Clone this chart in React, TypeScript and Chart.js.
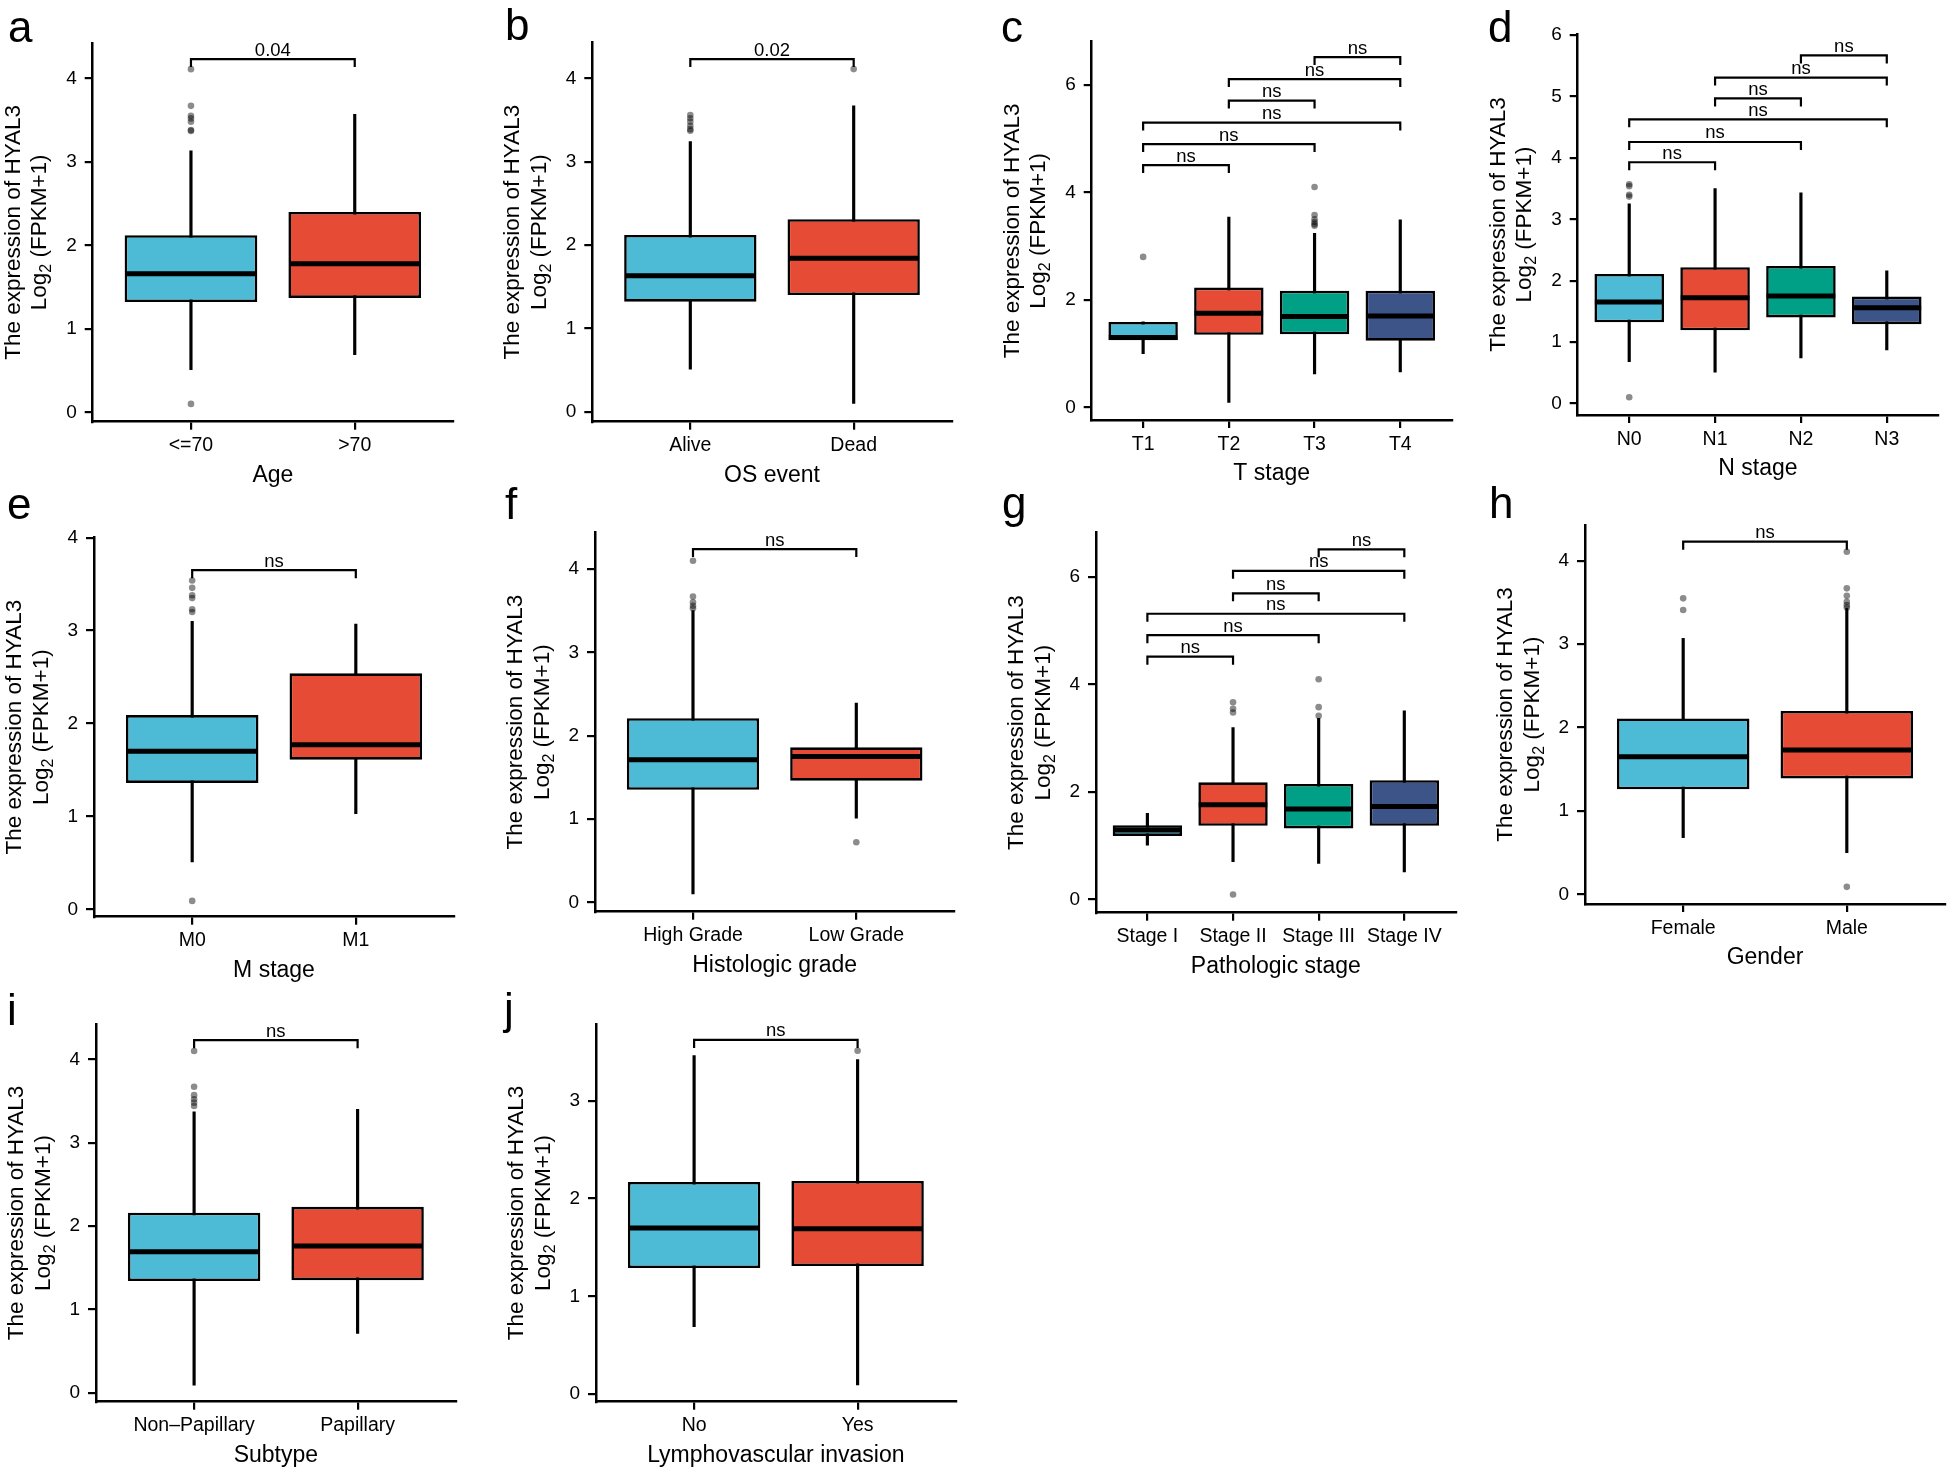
import React, { useEffect, useRef } from "react";
import { Chart, registerables } from "chart.js";
Chart.register(...registerables);

const FONT = '"Liberation Sans", Arial, Helvetica, sans-serif';
const COLORS = ["#4DBBD5", "#E64B35", "#00A087", "#3C5488"];

// ---------- a: Age ----------
const aCats = ["<=70", ">70"];
const aQ1 = [1.32, 1.37];
const aMed = [1.66, 1.78];
const aQ3 = [2.12, 2.4];
const aLo = [0.51, 0.69];
const aHi = [3.13, 3.57];
const aOut = [[4.11, 3.67, 3.55, 3.52, 3.48, 3.38, 3.37, 0.1], []];
const aTicks = [0, 1, 2, 3, 4];
const aBr: [number, number, number, string][] = [[1, 2, 4.23, "0.04"]];

// ---------- b: OS event ----------
const bCats = ["Alive", "Dead"];
const bQ1 = [1.32, 1.4];
const bMed = [1.63, 1.84];
const bQ3 = [2.12, 2.31];
const bLo = [0.51, 0.1];
const bHi = [3.24, 3.67];
const bOut = [[3.56, 3.52, 3.48, 3.43, 3.39, 3.37], [4.11]];
const bTicks = [0, 1, 2, 3, 4];
const bBr: [number, number, number, string][] = [[1, 2, 4.23, "0.02"]];

// ---------- c: T stage ----------
const cCats = ["T1", "T2", "T3", "T4"];
const cQ1 = [1.25, 1.35, 1.36, 1.24];
const cMed = [1.3, 1.75, 1.69, 1.7];
const cQ3 = [1.59, 2.23, 2.17, 2.17];
const cLo = [1.0, 0.09, 0.62, 0.66];
const cHi = [1.59, 3.54, 3.24, 3.49];
const cOut = [[2.8], [], [4.1, 3.58, 3.5, 3.45, 3.41, 3.38], []];
const cTicks = [0, 2, 4, 6];
const cBr: [number, number, number, string][] = [
  [1, 2, 4.51, "ns"], [1, 3, 4.9, "ns"], [1, 4, 5.3, "ns"],
  [2, 3, 5.71, "ns"], [2, 4, 6.11, "ns"], [3, 4, 6.52, "ns"],
];

// ---------- d: N stage ----------
const dCats = ["N0", "N1", "N2", "N3"];
const dQ1 = [1.32, 1.19, 1.4, 1.29];
const dMed = [1.65, 1.72, 1.75, 1.56];
const dQ3 = [2.11, 2.22, 2.24, 1.74];
const dLo = [0.68, 0.51, 0.74, 0.87];
const dHi = [3.25, 3.5, 3.43, 2.16];
const dOut = [[3.57, 3.54, 3.4, 3.37, 0.1], [], [], []];
const dTicks = [0, 1, 2, 3, 4, 5, 6];
const dBr: [number, number, number, string][] = [
  [1, 2, 3.93, "ns"], [1, 3, 4.26, "ns"], [1, 4, 4.63, "ns"],
  [2, 3, 4.97, "ns"], [2, 4, 5.31, "ns"], [3, 4, 5.67, "ns"],
];

// ---------- e: M stage ----------
const eCats = ["M0", "M1"];
const eQ1 = [1.36, 1.61];
const eMed = [1.7, 1.77];
const eQ3 = [2.09, 2.54];
const eLo = [0.51, 1.03];
const eHi = [3.1, 3.07];
const eOut = [[3.54, 3.46, 3.38, 3.35, 3.23, 3.2, 0.09], []];
const eTicks = [0, 1, 2, 3, 4];
const eBr: [number, number, number, string][] = [[1, 2, 3.65, "ns"]];

// ---------- f: Histologic grade ----------
const fCats = ["High Grade", "Low Grade"];
const fQ1 = [1.35, 1.46];
const fMed = [1.71, 1.75];
const fQ3 = [2.21, 1.86];
const fLo = [0.1, 1.01];
const fHi = [3.5, 2.39];
const fOut = [[4.1, 3.67, 3.6, 3.56, 3.53], [0.72]];
const fTicks = [0, 1, 2, 3, 4];
const fBr: [number, number, number, string][] = [[1, 2, 4.24, "ns"]];

// ---------- g: Pathologic stage ----------
const gCats = ["Stage I", "Stage II", "Stage III", "Stage IV"];
const gQ1 = [1.18, 1.37, 1.32, 1.37];
const gMed = [1.29, 1.76, 1.68, 1.73];
const gQ3 = [1.38, 2.18, 2.15, 2.22];
const gLo = [1.01, 0.7, 0.67, 0.51];
const gHi = [1.6, 3.2, 3.37, 3.51];
const gOut = [[], [3.67, 3.55, 3.48, 0.09], [4.1, 3.58, 3.42], []];
const gTicks = [0, 2, 4, 6];
const gBr: [number, number, number, string][] = [
  [1, 2, 4.52, "ns"], [1, 3, 4.92, "ns"], [1, 4, 5.32, "ns"],
  [2, 3, 5.7, "ns"], [2, 4, 6.12, "ns"], [3, 4, 6.52, "ns"],
];

// ---------- h: Gender ----------
const hCats = ["Female", "Male"];
const hQ1 = [1.26, 1.39];
const hMed = [1.65, 1.73];
const hQ3 = [2.11, 2.2];
const hLo = [0.68, 0.5];
const hHi = [3.07, 3.43];
const hOut = [[3.55, 3.41], [4.11, 3.67, 3.58, 3.51, 3.47, 3.44, 0.09]];
const hTicks = [0, 1, 2, 3, 4];
const hBr: [number, number, number, string][] = [[1, 2, 4.23, "ns"]];

// ---------- i: Subtype ----------
const iCats = ["Non\u2013Papillary", "Papillary"];
const iQ1 = [1.34, 1.35];
const iMed = [1.69, 1.76];
const iQ3 = [2.16, 2.23];
const iLo = [0.09, 0.71];
const iHi = [3.37, 3.4];
const iOut = [[4.1, 3.67, 3.57, 3.52, 3.48, 3.44], []];
const iTicks = [0, 1, 2, 3, 4];
const iBr: [number, number, number, string][] = [[1, 2, 4.23, "ns"]];

// ---------- j: Lymphovascular invasion ----------
const jCats = ["No", "Yes"];
const jQ1 = [1.29, 1.31];
const jMed = [1.7, 1.69];
const jQ3 = [2.17, 2.18];
const jLo = [0.69, 0.095];
const jHi = [3.46, 3.42];
const jOut = [[], [3.51]];
const jTicks = [0, 1, 2, 3];
const jBr: [number, number, number, string][] = [[1, 2, 3.62, "ns"]];

type Panel = {
  letter: string;
  xTitle: string;
  cats: string[];
  q1: number[];
  med: number[];
  q3: number[];
  lo: number[];
  hi: number[];
  out: number[][];
  yTicks: number[];
  br: [number, number, number, string][];
  yMin: number;
  yMax: number;
  cell: [number, number, number, number];
  plot: [number, number, number, number];
  lpos: [number, number];
};

const PANELS: Panel[] = [
  { letter: "a", xTitle: "Age", cats: aCats, q1: aQ1, med: aMed, q3: aQ3, lo: aLo, hi: aHi, out: aOut, yTicks: aTicks, br: aBr,
    yMin: -0.113, yMax: 4.423, cell: [0, 0, 490, 490], plot: [92.7, 43, 453, 421.7], lpos: [8, 42] },
  { letter: "b", xTitle: "OS event", cats: bCats, q1: bQ1, med: bMed, q3: bQ3, lo: bLo, hi: bHi, out: bOut, yTicks: bTicks, br: bBr,
    yMin: -0.12, yMax: 4.427, cell: [490, 0, 495, 490], plot: [592.3, 42.7, 951.7, 421.7], lpos: [505, 40] },
  { letter: "c", xTitle: "T stage", cats: cCats, q1: cQ1, med: cMed, q3: cQ3, lo: cLo, hi: cHi, out: cOut, yTicks: cTicks, br: cBr,
    yMin: -0.236, yMax: 6.806, cell: [985, 0, 490, 490], plot: [1091.7, 41.7, 1451.7, 420], lpos: [1001, 42] },
  { letter: "d", xTitle: "N stage", cats: dCats, q1: dQ1, med: dMed, q3: dQ3, lo: dLo, hi: dHi, out: dOut, yTicks: dTicks, br: dBr,
    yMin: -0.19, yMax: 6.02, cell: [1475, 0, 477, 490], plot: [1577.7, 34, 1938.3, 415], lpos: [1488, 42] },
  { letter: "e", xTitle: "M stage", cats: eCats, q1: eQ1, med: eMed, q3: eQ3, lo: eLo, hi: eHi, out: eOut, yTicks: eTicks, br: eBr,
    yMin: -0.08, yMax: 4.0, cell: [0, 478, 490, 507], plot: [94, 537.7, 454, 916.7], lpos: [7, 519] },
  { letter: "f", xTitle: "Histologic grade", cats: fCats, q1: fQ1, med: fMed, q3: fQ3, lo: fLo, hi: fHi, out: fOut, yTicks: fTicks, br: fBr,
    yMin: -0.113, yMax: 4.436, cell: [490, 478, 495, 507], plot: [595, 532.7, 954.3, 911.7], lpos: [505, 519] },
  { letter: "g", xTitle: "Pathologic stage", cats: gCats, q1: gQ1, med: gMed, q3: gQ3, lo: gLo, hi: gHi, out: gOut, yTicks: gTicks, br: gBr,
    yMin: -0.25, yMax: 6.83, cell: [985, 478, 490, 507], plot: [1096, 532.7, 1455.7, 912.7], lpos: [1002, 518] },
  { letter: "h", xTitle: "Gender", cats: hCats, q1: hQ1, med: hMed, q3: hQ3, lo: hLo, hi: hHi, out: hOut, yTicks: hTicks, br: hBr,
    yMin: -0.116, yMax: 4.43, cell: [1475, 478, 477, 507], plot: [1585, 525, 1945, 904], lpos: [1489, 518] },
  { letter: "i", xTitle: "Subtype", cats: iCats, q1: iQ1, med: iMed, q3: iQ3, lo: iLo, hi: iHi, out: iOut, yTicks: iTicks, br: iBr,
    yMin: -0.108, yMax: 4.42, cell: [0, 972, 490, 496], plot: [96, 1024.3, 455.7, 1401.7], lpos: [7, 1025] },
  { letter: "j", xTitle: "Lymphovascular invasion", cats: jCats, q1: jQ1, med: jMed, q3: jQ3, lo: jLo, hi: jHi, out: jOut, yTicks: jTicks, br: jBr,
    yMin: -0.076, yMax: 3.78, cell: [490, 972, 495, 496], plot: [596, 1024.3, 955.7, 1401.7], lpos: [504, 1024] },
];

function PanelChart({ p }: { p: Panel }) {
  const ref = useRef<HTMLCanvasElement>(null);
  useEffect(() => {
    const canvas = ref.current;
    if (!canvas) return;
    const [cx, cy, cw, ch] = p.cell;
    const [L, T, R, B] = p.plot;
    const n = p.cats.length;
    const idx = p.cats.map((_, i) => i + 1);

    const outPts: { x: number; y: number }[] = [];
    p.out.forEach((arr, i) => arr.forEach((v) => outPts.push({ x: i + 1, y: v })));

    const extras = {
      id: "extras_" + p.letter,
      afterDatasetsDraw(chart: any) {
        const ctx = chart.ctx as CanvasRenderingContext2D;
        const xs = chart.scales.x;
        const ys = chart.scales.y;
        const w = (xs.getPixelForValue(2) - xs.getPixelForValue(1)) * 0.8;
        ctx.save();
        ctx.strokeStyle = "#000";
        ctx.lineCap = "butt";
        ctx.lineWidth = 5;
        p.med.forEach((m, i) => {
          const x = xs.getPixelForValue(i + 1);
          const y = ys.getPixelForValue(m);
          ctx.beginPath();
          ctx.moveTo(x - w / 2, y);
          ctx.lineTo(x + w / 2, y);
          ctx.stroke();
        });
        ctx.lineWidth = 2.2;
        ctx.lineJoin = "miter";
        ctx.fillStyle = "#000";
        ctx.font = `18.5px ${FONT}`;
        ctx.textAlign = "center";
        ctx.textBaseline = "alphabetic";
        p.br.forEach(([a, b, v, lab]) => {
          const x1 = xs.getPixelForValue(a);
          const x2 = xs.getPixelForValue(b);
          const y = ys.getPixelForValue(v);
          ctx.beginPath();
          ctx.moveTo(x1, y + 8);
          ctx.lineTo(x1, y);
          ctx.lineTo(x2, y);
          ctx.lineTo(x2, y + 8);
          ctx.stroke();
          ctx.fillText(lab, (x1 + x2) / 2, y - 3.5);
        });
        ctx.restore();
      },
      afterDraw(chart: any) {
        const ctx = chart.ctx as CanvasRenderingContext2D;
        const area = chart.chartArea;
        ctx.save();
        ctx.fillStyle = "#000";
        // panel letter
        ctx.font = `44px ${FONT}`;
        ctx.textAlign = "left";
        ctx.textBaseline = "alphabetic";
        ctx.fillText(p.letter, p.lpos[0] - cx, p.lpos[1] - cy);
        // x title
        ctx.font = `23px ${FONT}`;
        ctx.textAlign = "center";
        ctx.fillText(p.xTitle, (area.left + area.right) / 2, area.bottom + 60);
        // y title
        const midY = (area.top + area.bottom) / 2;
        ctx.save();
        ctx.translate(area.left - 73, midY);
        ctx.rotate(-Math.PI / 2);
        ctx.textAlign = "center";
        ctx.font = `22.5px ${FONT}`;
        ctx.fillText("The expression of HYAL3", 0, 0);
        ctx.restore();
        ctx.save();
        ctx.translate(area.left - 46.5, midY);
        ctx.rotate(-Math.PI / 2);
        ctx.textAlign = "left";
        const big = `22.5px ${FONT}`;
        const small = `16px ${FONT}`;
        ctx.font = big;
        const w1 = ctx.measureText("Log").width;
        const w3 = ctx.measureText(" (FPKM+1)").width;
        ctx.font = small;
        const w2 = ctx.measureText("2").width;
        let x0 = -(w1 + w2 + w3) / 2;
        ctx.font = big;
        ctx.fillText("Log", x0, 0);
        x0 += w1;
        ctx.font = small;
        ctx.fillText("2", x0, 5);
        x0 += w2;
        ctx.font = big;
        ctx.fillText(" (FPKM+1)", x0, 0);
        ctx.restore();
        ctx.restore();
      },
    };

    const gridCfg = {
      display: true,
      drawOnChartArea: false,
      drawTicks: true,
      tickLength: 8,
      color: "#000",
      lineWidth: 2.2,
      offset: false,
    };
    const borderCfg = { display: true, color: "#000", width: 2.5 };

    const chart = new Chart(canvas, {
      type: "bar",
      data: {
        datasets: [
          {
            type: "scatter",
            data: outPts,
            backgroundColor: "rgba(0,0,0,0.45)",
            borderWidth: 0,
            pointRadius: 3.3,
            order: 0,
          } as any,
          {
            type: "bar",
            data: idx.map((i) => ({ x: i, y: [p.q1[i - 1], p.q3[i - 1]] })),
            backgroundColor: p.cats.map((_, i) => COLORS[i]),
            borderColor: "#000",
            borderWidth: 2.6,
            borderSkipped: false,
            grouped: false,
            barPercentage: 0.81,
            categoryPercentage: 1,
            order: 1,
          } as any,
          {
            type: "bar",
            data: idx.map((i) => ({ x: i, y: [p.lo[i - 1], p.hi[i - 1]] })),
            backgroundColor: "#000",
            borderWidth: 0,
            grouped: false,
            barPercentage: 1,
            categoryPercentage: 1,
            maxBarThickness: 2.5,
            order: 2,
          } as any,
        ],
      },
      options: {
        animation: false,
        responsive: false,
        devicePixelRatio: 1,
        events: [],
        layout: { padding: { left: 0, top: T - cy, right: cx + cw - R, bottom: 0 } },
        plugins: { legend: { display: false }, tooltip: { enabled: false }, title: { display: false } },
        scales: {
          x: {
            type: "linear",
            min: 0.4,
            max: n + 0.6,
            offset: false,
            afterBuildTicks: (s: any) => {
              s.ticks = idx.map((v) => ({ value: v }));
            },
            afterFit: (s: any) => {
              s.height = cy + ch - B;
            },
            grid: gridCfg,
            border: borderCfg,
            ticks: {
              color: "#000",
              font: { family: FONT, size: 19.5 },
              padding: 4.5,
              maxRotation: 0,
              minRotation: 0,
              autoSkip: false,
              callback: (v: any) => p.cats[Math.round(Number(v)) - 1] ?? "",
            },
          },
          y: {
            type: "linear",
            min: p.yMin,
            max: p.yMax,
            afterBuildTicks: (s: any) => {
              s.ticks = p.yTicks.map((v) => ({ value: v }));
            },
            afterFit: (s: any) => {
              s.width = L - cx;
            },
            grid: gridCfg,
            border: borderCfg,
            ticks: {
              color: "#000",
              font: { family: FONT, size: 19 },
              padding: 8,
              callback: (v: any) => String(v),
            },
          },
        },
      } as any,
      plugins: [extras],
    });
    return () => chart.destroy();
  }, [p]);

  const [cx, cy, cw, ch] = p.cell;
  return (
    <canvas
      ref={ref}
      width={cw}
      height={ch}
      style={{ position: "absolute", left: cx, top: cy, width: cw, height: ch }}
    />
  );
}

export default function App() {
  return (
    <div
      style={{
        position: "absolute",
        left: 0,
        top: 0,
        width: 1952,
        height: 1468,
        background: "#ffffff",
        overflow: "hidden",
      }}
    >
      {PANELS.map((p) => (
        <PanelChart key={p.letter} p={p} />
      ))}
    </div>
  );
}
